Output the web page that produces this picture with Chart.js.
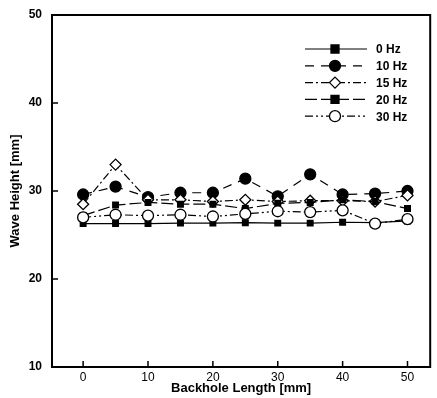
<!DOCTYPE html>
<html>
<head>
<meta charset="utf-8">
<script src="https://cdn.jsdelivr.net/npm/chart.js@4.4.0/dist/chart.umd.min.js"></script>
<style>
  html, body { margin: 0; padding: 0; background: #fff; overflow: hidden; }
  #c { display: block; }
</style>
</head>
<body>
<canvas id="c" width="437" height="398"></canvas>
<script>
// Data
const backholeLength = [0, 5, 10, 15, 20, 25, 30, 35, 40, 45, 50];
const hz0  = [26.3, 26.3, 26.3, 26.35, 26.35, 26.4, 26.35, 26.35, 26.45, 26.4, 26.6];
const hz10 = [29.6, 30.5, 29.3, 29.8, 29.8, 31.4, 29.4, 31.9, 29.6, 29.7, 30.0];
const hz15 = [28.5, 33.0, 29.0, 29.0, 28.8, 29.0, 28.8, 28.9, 28.9, 28.8, 29.5];
const hz20 = [27.2, 28.4, 28.7, 28.5, 28.5, 28.0, 28.6, 28.7, 29.0, 28.8, 28.0];
const hz30 = [27.0, 27.3, 27.2, 27.3, 27.1, 27.4, 27.7, 27.6, 27.8, 26.3, 26.8];
const xTicks = [0, 10, 20, 30, 40, 50];
const yTicks = [10, 20, 30, 40, 50];

const FONT = 'Liberation Sans, Arial, sans-serif';

function pts(vals) {
    return backholeLength.map((x, i) => ({ x: x, y: vals[i] }));
}

const series = [
    { label: '0 Hz',  data: hz0,  dash: [],                 style: 'rect',    r: 4,   fill: '#000' },
    { label: '10 Hz', data: hz10, dash: [9, 7],             style: 'circle',  r: 5.5, fill: '#000' },
    { label: '15 Hz', data: hz15, dash: [8, 3, 2, 3],       style: 'rectRot', r: 5.5, fill: '#fff' },
    { label: '20 Hz', data: hz20, dash: [12, 4],            style: 'rect',    r: 4,   fill: '#000' },
    { label: '30 Hz', data: hz30, dash: [8, 3, 2, 3, 2, 3], style: 'circle',  r: 5.5, fill: '#fff' }
];

function drawMarkerPath(ctx, style, r, x, y) {
    if (style === 'circle') {
        ctx.arc(x, y, r, 0, Math.PI * 2);
    } else if (style === 'rect') {
        ctx.rect(x - r, y - r, 2 * r, 2 * r);
    } else {
        ctx.moveTo(x, y - r);
        ctx.lineTo(x + r, y);
        ctx.lineTo(x, y + r);
        ctx.lineTo(x - r, y);
        ctx.closePath();
    }
}

// frame, inward ticks and legend
const framePlugin = {
    id: 'frame',
    afterDraw(chart) {
        const ctx = chart.ctx;
        const a = chart.chartArea;
        const xs = chart.scales.x, ys = chart.scales.y;
        ctx.save();
        ctx.strokeStyle = '#000';
        ctx.lineWidth = 2;
        ctx.strokeRect(a.left, a.top, a.right - a.left, a.bottom - a.top);
        ctx.lineWidth = 1.5;
        ctx.beginPath();
        xTicks.forEach(v => {
            const px = xs.getPixelForValue(v);
            ctx.moveTo(px, a.bottom);
            ctx.lineTo(px, a.bottom - 6);
        });
        yTicks.forEach(v => {
            const py = ys.getPixelForValue(v);
            ctx.moveTo(a.left, py);
            ctx.lineTo(a.left + 6, py);
        });
        ctx.stroke();

        // legend
        let y = 49;
        series.forEach(s => {
            ctx.setLineDash(s.dash);
            ctx.lineWidth = 1.2;
            ctx.strokeStyle = '#000';
            ctx.beginPath();
            ctx.moveTo(305, y);
            ctx.lineTo(367, y);
            ctx.stroke();
            ctx.setLineDash([]);
            ctx.lineWidth = 1.3;
            ctx.fillStyle = s.fill;
            ctx.beginPath();
            drawMarkerPath(ctx, s.style, s.r, 335, y);
            ctx.fill();
            ctx.stroke();
            ctx.fillStyle = '#000';
            ctx.font = 'bold 12px ' + FONT;
            ctx.textBaseline = 'middle';
            ctx.fillText(s.label, 376, y + 1);
            y += 16.8;
        });
        ctx.restore();
    }
};

const config = {
    type: 'line',
    data: {
        datasets: series.map(s => ({
            label: s.label,
            data: pts(s.data),
            borderColor: '#000',
            borderWidth: 1.2,
            borderDash: s.dash,
            backgroundColor: s.fill,
            pointStyle: s.style,
            pointRadius: s.r,
            pointBorderWidth: 1.3,
            pointBorderColor: '#000',
            pointBackgroundColor: s.fill,
            fill: false,
            tension: 0
        })).reverse()
    },
    options: {
        responsive: false,
        animation: false,
        devicePixelRatio: 1,
        layout: { padding: { top: 15, right: 1, left: 8, bottom: 2 } },
        plugins: {
            legend: { display: false },
            tooltip: { enabled: false }
        },
        events: [],
        scales: {
            x: {
                type: 'linear',
                min: -4.8,
                max: 53.5,
                afterBuildTicks: s => { s.ticks = xTicks.map(v => ({ value: v })); },
                afterFit: s => { s.height = 29; s.paddingLeft = 0; s.paddingRight = 0; },
                grid: { display: false, drawTicks: false },
                border: { display: false },
                ticks: {
                    color: '#000',
                    padding: 3,
                    font: { family: FONT, size: 12 }
                },
                title: {
                    display: true,
                    text: 'Backhole Length [mm]',
                    color: '#000',
                    padding: { top: 0, bottom: 0 },
                    font: { family: FONT, size: 13, weight: 'bold' }
                }
            },
            y: {
                min: 10,
                max: 50,
                afterBuildTicks: s => { s.ticks = yTicks.map(v => ({ value: v })); },
                afterFit: s => { s.width = 44; s.paddingTop = 0; s.paddingBottom = 0; },
                grid: { display: false, drawTicks: false },
                border: { display: false },
                ticks: {
                    color: '#000',
                    padding: 10,
                    font: { family: FONT, size: 12, weight: 'bold' }
                },
                title: {
                    display: true,
                    text: 'Wave Height [mm]',
                    color: '#000',
                    padding: { top: 0, bottom: 0 },
                    font: { family: FONT, size: 13, weight: 'bold' }
                }
            }
        }
    },
    plugins: [framePlugin]
};

const ctx = document.getElementById('c').getContext('2d');
new Chart(ctx, config);
</script>
</body>
</html>
